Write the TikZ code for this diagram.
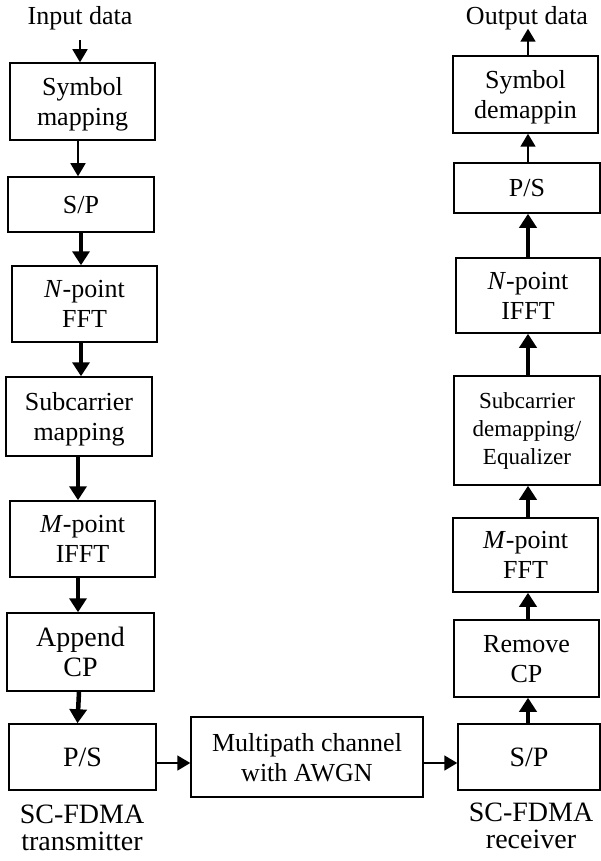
\documentclass[tikz,border=0pt]{standalone}
\usepackage{fontspec}
\setmainfont{Liberation Serif}
\usetikzlibrary{arrows.meta}
\tikzset{
  blkbase/.style={draw, line width=1.5pt, inner sep=0pt, align=center,
    font=\fontsize{26}{30}\selectfont},
  blk/.style={blkbase, text depth=0pt},
  bigtxt/.style={font=\fontsize{28}{30}\selectfont},
  tarrow/.style={line width=1.8pt, -{Triangle[width=15pt,length=13pt]}},
  karrow/.style={line width=4.5pt, -{Triangle[width=17pt,length=14pt]}},
  lbl/.style={inner sep=0pt, align=center, font=\fontsize{28}{27}\selectfont, text depth=0pt},
  io/.style={inner sep=0pt, font=\fontsize{26}{30}\selectfont, anchor=base}
}
\begin{document}
\begin{tikzpicture}[x=1pt,y=-1pt]
\useasboundingbox (0,0) rectangle (600,861);
% column helpers
\coordinate (x78) at (78,0);
\coordinate (x81) at (81,0);
\coordinate (x528) at (528,0);
\coordinate (h763) at (0,763);
% left column
\node[io] (in) at (80,25) {Input data};
\node[blk, minimum width=145pt, minimum height=77pt] (sym) at (82.5,101.5) {Symbol\\mapping};
\node[blk, minimum width=146pt, minimum height=55pt] (sp1) at (81,204.5) {S/P};
\node[blk, minimum width=145pt, minimum height=76pt] (nfft) at (84.5,304) {\textit{N}-point\\FFT};
\node[blk, minimum width=146pt, minimum height=79pt] (smap) at (79,416.5) {Subcarrier\\mapping};
\node[blk, minimum width=145pt, minimum height=76pt] (mifft) at (82.5,539) {\textit{M}-point\\IFFT};
\node[blk, bigtxt, minimum width=147pt, minimum height=78pt] (app) at (80.5,652) {Append\\CP};
\node[blk, bigtxt, minimum width=147pt, minimum height=66pt] (ps1) at (82.5,757) {P/S};
% channel
\node[blk, minimum width=232pt, minimum height=80pt] (mp) at (307,757) {Multipath channel\\with AWGN};
% right column
\node[blk, bigtxt, minimum width=142pt, minimum height=66pt] (sp2) at (529,757) {S/P};
\node[blk, minimum width=145pt, minimum height=77pt] (rem) at (526.5,658.5) {Remove\\CP};
\node[blk, minimum width=145pt, minimum height=74pt] (mfft) at (525.5,555) {\textit{M}-point\\FFT};
\node[blkbase, font=\fontsize{23}{28}\selectfont, minimum width=146pt, minimum height=109pt] (sdem) at (527,430.5) {Subcarrier\\demapping/\\Equalizer};
\node[blk, minimum width=144pt, minimum height=75pt] (nifft) at (528,295.5) {\textit{N}-point\\IFFT};
\node[blk, minimum width=146pt, minimum height=50pt] (ps2) at (527,188) {P/S};
\node[blk, minimum width=145pt, minimum height=77pt] (sdm) at (525.5,94.5) {Symbol\\demappin};
\node[io] (out) at (527,25) {Output data};
% labels
\node[lbl] (l1) at (82,827.5) {SC-FDMA\\transmitter};
\node[lbl] (l2) at (531,826) {SC-FDMA\\receiver};
% transmitter arrows
\draw[tarrow] ([yshift=-9.5pt]in.south) -- (sym.north -| in.south);
\draw[tarrow] (sym.south -| x78) -- (sp1.north -| x78);
\draw[karrow] (sp1.south -| x81) -- (nfft.north -| x81);
\draw[karrow] (nfft.south -| x81) -- (smap.north -| x81);
\draw[karrow] (smap.south -| x78) -- (mifft.north -| x78);
\draw[karrow] (mifft.south -| x78) -- (app.north -| x78);
\draw[karrow] ([xshift=-1.5pt]app.south) -- ([xshift=-5pt]ps1.north);
% channel arrows
\draw[tarrow] (ps1.east |- h763) -- (mp.west |- h763);
\draw[tarrow] (mp.east |- h763) -- (sp2.west |- h763);
% receiver arrows
\draw[karrow] (sp2.north -| x528) -- (rem.south -| x528);
\draw[karrow] (rem.north -| x528) -- (mfft.south -| x528);
\draw[karrow] (mfft.north -| x528) -- (sdem.south -| x528);
\draw[karrow] (sdem.north -| x528) -- (nifft.south -| x528);
\draw[karrow] (nifft.north -| x528) -- (ps2.south -| x528);
\draw[tarrow] (ps2.north -| x528) -- (sdm.south -| x528);
\draw[tarrow] (sdm.north -| x528) -- ([yshift=2pt]out.south -| x528);
\end{tikzpicture}
\end{document}
